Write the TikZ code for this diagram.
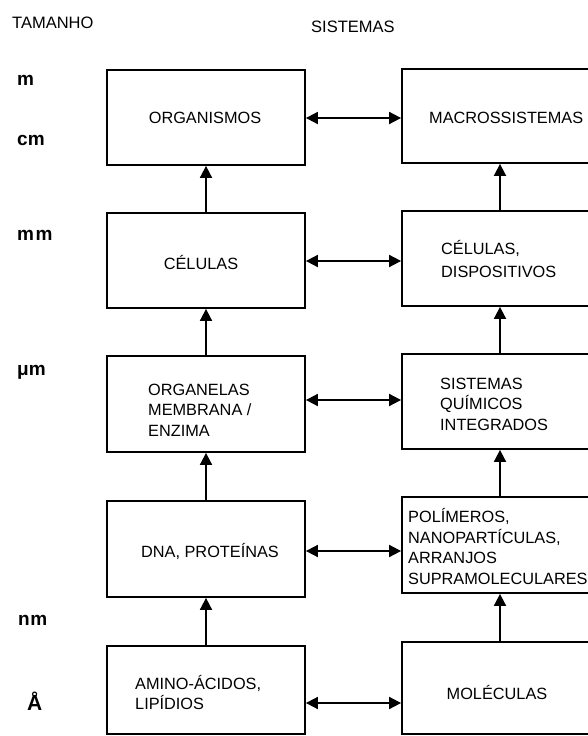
\documentclass[tikz,border=0pt]{standalone}
\usepackage{fontspec}
\setmainfont{Liberation Sans}
\usetikzlibrary{arrows.meta}
\begin{document}
\begin{tikzpicture}[x=1pt,y=-1pt,
 box/.style={draw, line width=1.8pt, minimum width=198pt, inner sep=0pt},
 txt/.style={font=\fontsize{16.3}{20.5}\selectfont, align=left, inner sep=0pt},
 hdr/.style={font=\fontsize{16.5}{18}\selectfont, anchor=west, inner sep=0pt},
 unit/.style={font=\fontsize{19}{20}\selectfont\bfseries, anchor=west, inner sep=0pt},
 arr/.style={line width=1.8pt, -{Triangle[width=12pt,length=12pt]}},
 dbl/.style={line width=1.8pt, {Triangle[width=12pt,length=12pt]}-{Triangle[width=12pt,length=12pt]}}]
\useasboundingbox (0,0) rectangle (588,736);
\fill[white] (0,0) rectangle (588,736);
% headers
\node[hdr] (tam) at (12,23) {TAMANHO};
\node[hdr] (sis) at (311,27) {SISTEMAS};
% units
\node[unit] (um1) at (17,80) {m};
\node[unit] (um2) at (17,140) {cm};
\node[unit] (um3) at (17,235) {m\kern1.5pt m};
\node[unit] (um4) at (17,372) {μm};
\node[unit] (um5) at (18,620) {n\kern0.5pt m};
\node[unit, font=\fontsize{21}{22}\selectfont\bfseries] (um6) at (27,701) {Å};
% left boxes
\node[box, minimum height=95pt] (L1) at (206,117.5) {};
\node[box, minimum height=95pt] (L2) at (206,260.5) {};
\node[box, minimum height=96pt] (L3) at (206,404) {};
\node[box, minimum height=96pt] (L4) at (206,549) {};
\node[box, minimum height=88pt] (L5) at (206,690) {};
% right boxes
\node[box, minimum height=94pt] (R1) at (501,116) {};
\node[box, minimum height=95pt] (R2) at (501,258.5) {};
\node[box, minimum height=95pt] (R3) at (501,401.5) {};
\node[box, minimum height=96pt] (R4) at (501,545) {};
\node[box, minimum height=92pt] (R5) at (501,688) {};
% texts
\node[txt] (t1) at (205,118) {ORGANISMOS};
\node[txt] (t2) at (201,263) {CÉLULAS};
\node[txt, anchor=west] (t3) at (148,410) {ORGANELAS\\MEMBRANA /\\ENZIMA};
\node[txt] (t4) at (210,551) {DNA, PROTEÍNAS};
\node[txt, anchor=west] (t5) at (135,692.5) {AMINO-ÁCIDOS,\\LIPÍDIOS};
\node[txt, anchor=west] (s1) at (429,118) {MACROSSISTEMAS};
\node[txt, anchor=west, font=\fontsize{16.3}{23}\selectfont] (s2) at (441,259.5) {CÉLULAS,\\DISPOSITIVOS};
\node[txt, anchor=west] (s3) at (440,404) {SISTEMAS\\QUÍMICOS\\INTEGRADOS};
\node[txt, anchor=west] (s4) at (408,546.5) {POLÍMEROS,\\NANOPARTÍCULAS,\\ARRANJOS\\SUPRAMOLECULARES};
\node[txt] (s5) at (497,693) {MOLÉCULAS};
% vertical arrows
\draw[arr] (L2.north) -- (L1.south);
\draw[arr] (L3.north) -- (L2.south);
\draw[arr] (L4.north) -- (L3.south);
\draw[arr] (L5.north) -- (L4.south);
\coordinate (vx) at (500,0);
\draw[arr] (R2.north -| vx) -- (R1.south -| vx);
\draw[arr] (R3.north -| vx) -- (R2.south -| vx);
\draw[arr] (R4.north -| vx) -- (R3.south -| vx);
\draw[arr] (R5.north -| vx) -- (R4.south -| vx);
% horizontal arrows
\coordinate (h1) at (0,118);
\coordinate (h2) at (0,261);
\coordinate (h3) at (0,400);
\coordinate (h4) at (0,551);
\coordinate (h5) at (0,703);
\draw[dbl] (L1.east |- h1) -- (R1.west |- h1);
\draw[dbl] (L2.east |- h2) -- (R2.west |- h2);
\draw[dbl] (L3.east |- h3) -- (R3.west |- h3);
\draw[dbl] (L4.east |- h4) -- (R4.west |- h4);
\draw[dbl] (L5.east |- h5) -- (R5.west |- h5);
\end{tikzpicture}
\end{document}
